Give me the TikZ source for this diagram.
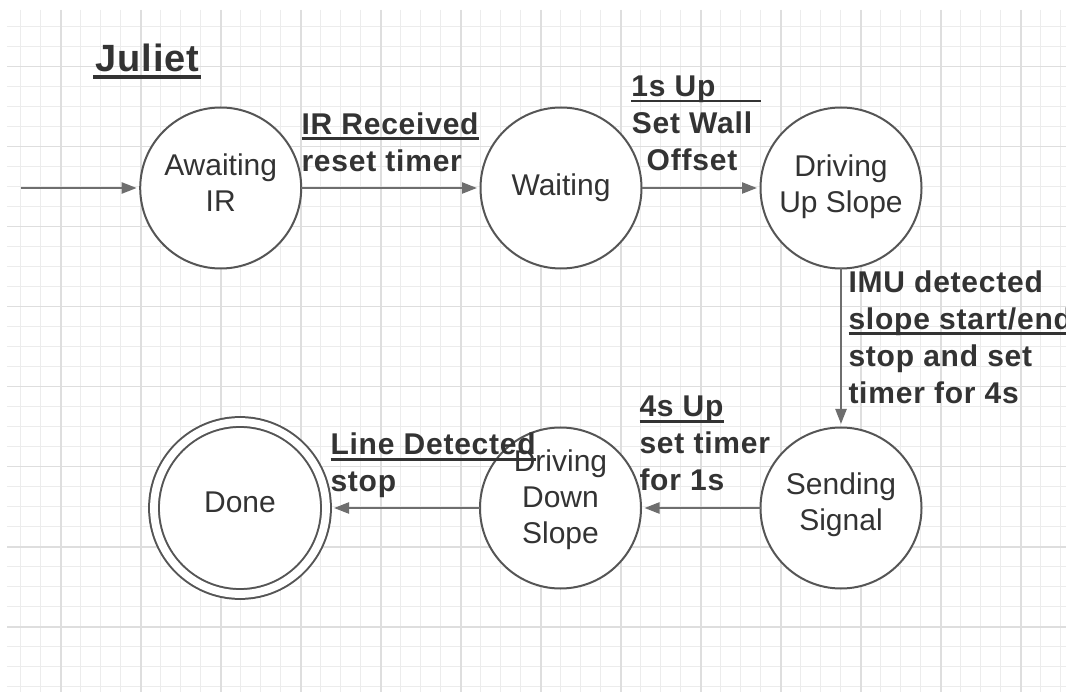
\documentclass[tikz,border=0pt]{standalone}
\usepackage{fontspec}
\setmainfont{Liberation Sans}[BoldFeatures={LetterSpace=2.6}]
\usetikzlibrary{arrows.meta}
\definecolor{gridminor}{HTML}{ECECEC}
\definecolor{gridmajor}{HTML}{DEDEDE}
\definecolor{strokecol}{HTML}{555555}
\definecolor{edgecol}{HTML}{6E6E6E}
\definecolor{txt}{HTML}{333333}
\newsavebox\ulbox
\newcommand\ulin[1]{\setbox\ulbox\hbox{#1}\rlap{\rule[-5.8pt]{\wd\ulbox}{2.8pt}}\box\ulbox}
\newcommand\titleul[1]{\setbox\ulbox\hbox{#1}\rlap{\hspace*{-2pt}\rule[-7.6pt]{\dimexpr\wd\ulbox+4pt\relax}{3.8pt}}\box\ulbox}
\newcommand\lowpad[1]{\rule[-#1]{0pt}{0pt}}
\newcommand\topstrut{\rule{0pt}{25pt}}
\begin{document}
\begin{tikzpicture}[x=1pt,y=-1pt,
  state/.style={circle,draw=strokecol,line width=2pt,fill=white,minimum size=161pt,
    inner sep=0pt,outer sep=0pt,text=txt,align=center,font=\fontsize{30}{36}\selectfont},
  final/.style={state,double=white,double distance=7.8pt,minimum size=172pt},
  trans/.style={draw=edgecol,line width=2.3pt,-{Triangle[length=15pt,width=11pt]},shorten >=3.5pt},
  lbl/.style={text=txt,inner sep=0pt,outer sep=0pt,font=\bfseries\fontsize{30}{37}\selectfont,
    align=left,anchor=north west},
  lblc/.style={lbl,align=center,anchor=north},
  minorline/.style={draw=gridminor,line width=1.2pt},
  majorline/.style={draw=gridmajor,line width=1.6pt}]
\fill[white] (0,0) rectangle (1066,692);
\useasboundingbox (0,0) rectangle (1066,692);
% grid
\foreach \i in {0,...,52} \draw[minorline] (20.7+20*\i,10) -- (20.7+20*\i,692);
\foreach \j in {0,...,33} \draw[minorline] (7,26.7+20*\j) -- (1066,26.7+20*\j);
\foreach \i in {0,...,12} \draw[majorline] (60.7+80*\i,10) -- (60.7+80*\i,692);
\foreach \j in {0,...,7} \draw[majorline] (7,66.7+80*\j) -- (1066,66.7+80*\j);
% title
\node[inner sep=0pt,anchor=base west,text=txt,font=\bfseries\fontsize{38}{44}\selectfont] (title) at (95,71.7) {\titleul{Juliet}};
% states
\node[state] (air) at (220.7,188) {Awaiting\\IR\lowpad{10pt}};
\node[state] (wt) at (561,188) {Waiting};
\node[state] (dus) at (841,188) {Driving\\Up Slope\lowpad{9pt}};
\node[state] (ss) at (841,508) {Sending\\Signal\lowpad{12pt}};
\node[state] (dds) at (560.5,508) {Driving\\Down\\Slope\lowpad{23.5pt}};
\node[final] (done) at (240,508) {Done\lowpad{11pt}};
% transitions
\coordinate (start) at (20.7,188);
\draw[trans] (start) -- (air);
\draw[trans] (air) -- (wt);
\draw[trans] (wt) -- (dus);
\draw[trans] (dus) -- (ss);
\draw[trans] (ss) -- (dds);
\draw[trans,shorten >=8pt] (dds) -- (done);
% labels
\node[lbl] (l1) at (301.5,109.3) {\topstrut\ulin{IR Received}\\reset timer};
\node[lblc] (l2) at (692,71.7) {\topstrut\hspace*{8pt}\ulin{1s Up\hspace*{45pt}}\\Set Wall\\Offset};
\node[lbl] (l3) at (848.5,267.3) {\topstrut IMU detected\\\ulin{slope start/end}\\stop and set\\timer for 4s};
\node[lbl] (l4) at (639.5,391.7) {\topstrut\ulin{4s Up}\\set timer\\for 1s};
\node[lbl] (l5) at (330.5,430) {\topstrut\ulin{Line Detected}\\stop};
\end{tikzpicture}
\end{document}
